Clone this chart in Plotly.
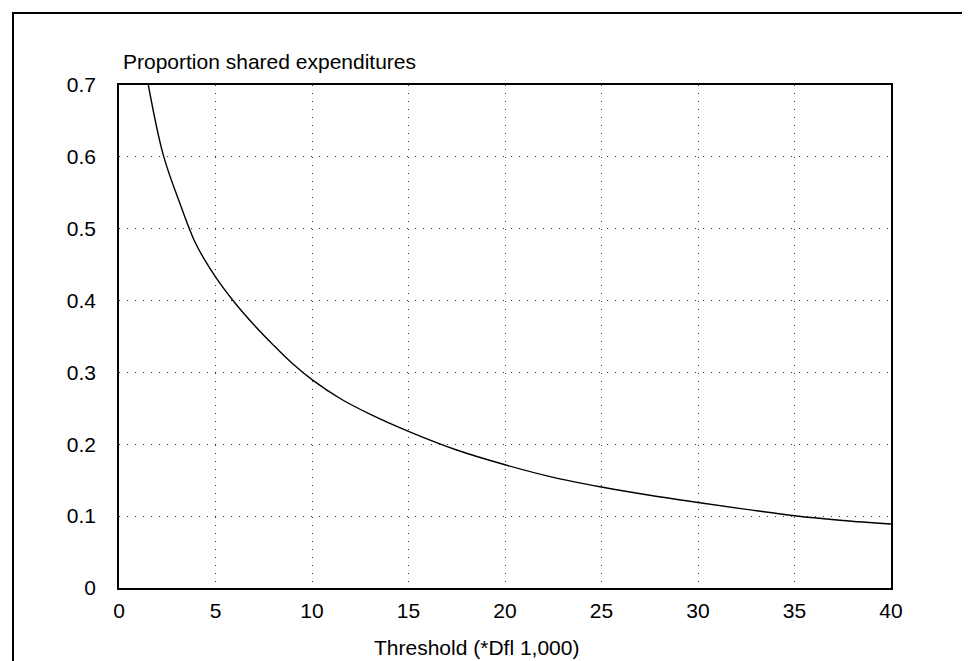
import plotly.graph_objects as go

# Data
threshold = [1.52, 2.3, 3.2, 4.0, 5, 6, 7, 8, 9, 10, 11.5, 13, 15, 17.5, 20,
             22.5, 25, 27.5, 30, 32.5, 35, 37.5, 40]
proportion = [0.70, 0.602, 0.532, 0.478, 0.433, 0.397, 0.366, 0.338, 0.312, 0.290,
              0.263, 0.242, 0.218, 0.192, 0.1715, 0.154, 0.1405, 0.129, 0.119,
              0.1095, 0.1006, 0.094, 0.089]

x_ticks = [0, 5, 10, 15, 20, 25, 30, 35, 40]
y_ticks = [0, 0.1, 0.2, 0.3, 0.4, 0.5, 0.6, 0.7]
y_tick_labels = ["0", "0.1", "0.2", "0.3", "0.4", "0.5", "0.6", "0.7"]

y_title = "Proportion shared expenditures"
x_title = "Threshold (*Dfl 1,000)"

FONT = "Liberation Sans, Arial, Helvetica, sans-serif"

fig = go.Figure()
fig.add_trace(go.Scatter(
    x=threshold, y=proportion, mode="lines",
    line=dict(color="black", width=1.4, shape="spline", smoothing=1.0),
    showlegend=False, hoverinfo="skip",
))

W, H = 970, 661
L, R, T, B = 111, 87, 77, 81
pw, ph = W - L - R, H - T - B

def px_to_paper_x(px):
    return (px - L) / pw

def px_to_paper_y(py):
    return (H - B - py) / ph

axis_common = dict(
    showline=True, linecolor="black", linewidth=1.6, mirror=True,
    showgrid=True, gridcolor="#333333", gridwidth=1, griddash="1px,7px",
    zeroline=False, ticks="", tickfont=dict(family=FONT, size=21, color="black"),
)

fig.update_xaxes(range=[0, 40], tickvals=x_ticks, ticktext=[str(v) for v in x_ticks],
                 ticklabelstandoff=3, **axis_common)
fig.update_yaxes(range=[0, 0.7], tickvals=y_ticks, ticktext=y_tick_labels,
                 ticklabelstandoff=17, **axis_common)

fig.add_annotation(
    text=y_title, xref="paper", yref="paper",
    x=px_to_paper_x(113), y=px_to_paper_y(54), xanchor="left", yanchor="middle",
    showarrow=False, font=dict(family=FONT, size=21, color="black"),
)
fig.add_annotation(
    text=x_title, xref="paper", yref="paper",
    x=px_to_paper_x(468), y=px_to_paper_y(639), xanchor="center", yanchor="middle",
    showarrow=False, font=dict(family=FONT, size=21, color="black"),
)

# Outer frame around the whole figure
fig.add_shape(
    type="rect", xref="paper", yref="paper",
    x0=px_to_paper_x(5), x1=px_to_paper_x(963),
    y0=px_to_paper_y(675), y1=px_to_paper_y(5),
    line=dict(color="black", width=2), layer="above",
)

fig.update_layout(
    width=W, height=H,
    margin=dict(l=L, r=R, t=T, b=B),
    paper_bgcolor="white", plot_bgcolor="white",
    font=dict(family=FONT, color="black"),
)

fig.write_html("out.html")
